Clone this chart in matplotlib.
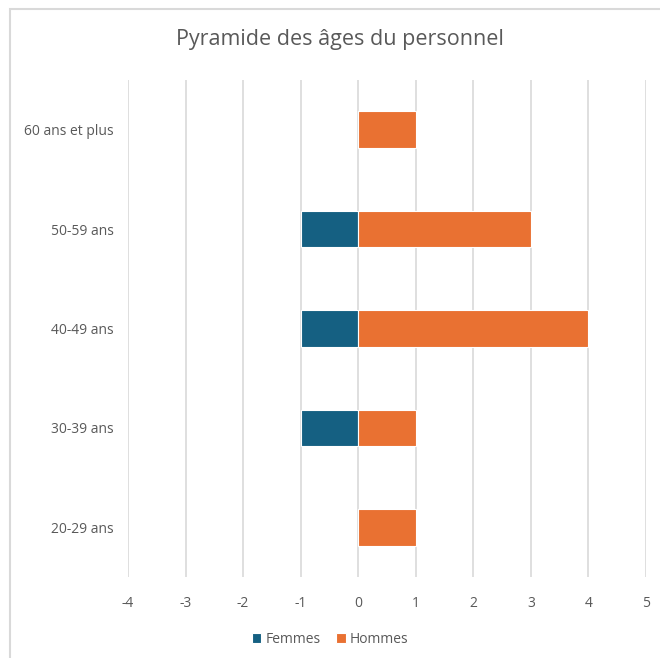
import matplotlib.pyplot as plt
from matplotlib.patches import Rectangle

plt.rcParams['font.family'] = ['Open Sans', 'DejaVu Sans']
plt.rcParams['axes.unicode_minus'] = False

# age groups, bottom to top
tranches = ["20-29 ans", "30-39 ans", "40-49 ans", "50-59 ans", "60 ans et plus"]
femmes = [0, -1, -1, -1, 0]
hommes = [1, 1, 4, 3, 1]
ticks_x = [-4, -3, -2, -1, 0, 1, 2, 3, 4, 5]

bleu = "#156082"
orange = "#E97132"
gris = "#595959"

fig = plt.figure(figsize=(6.6, 6.58), dpi=100)
# chart frame (only top/left edges show)
fig.patches.append(Rectangle((10/660, -0.1), 1.2, 1 - 9/658 + 0.1, transform=fig.transFigure,
                             fill=False, edgecolor="#d9d9d9", linewidth=1.5))

ax = fig.add_axes([128/660, 1 - 577/658, (646 - 128)/660, (577 - 80)/658])
y = range(len(tranches))
h = 0.37
ax.barh(y, femmes, height=h, color=bleu, edgecolor="white", linewidth=0.8, label="Femmes", zorder=3)
ax.barh(y, hommes, height=h, color=orange, edgecolor="white", linewidth=0.8, label="Hommes", zorder=3)

ax.set_xlim(-4, 5)
ax.set_ylim(-0.5, len(tranches) - 0.5)
ax.set_xticks(ticks_x)
ax.set_yticks(list(y))
ax.set_yticklabels(tranches)
ax.grid(axis="x", color="#d9d9d9", linewidth=1.2, zorder=0)
for s in ax.spines.values():
    s.set_visible(False)
ax.tick_params(length=0, colors=gris, labelsize=10)
ax.tick_params(axis="x", pad=14)
ax.tick_params(axis="y", pad=10)

fig.text(340/660, 1 - 40/658, "Pyramide des âges du personnel", fontsize=15.5, color=gris,
         ha="center", va="center")

ax.legend(loc="upper center", bbox_to_anchor=(0.39, -0.085), ncol=2, frameon=False,
          fontsize=10, handlelength=0.7, handleheight=0.7, handletextpad=0.3,
          columnspacing=1.1, labelcolor=gris)

fig.savefig("out.png", dpi=100, facecolor="white")
